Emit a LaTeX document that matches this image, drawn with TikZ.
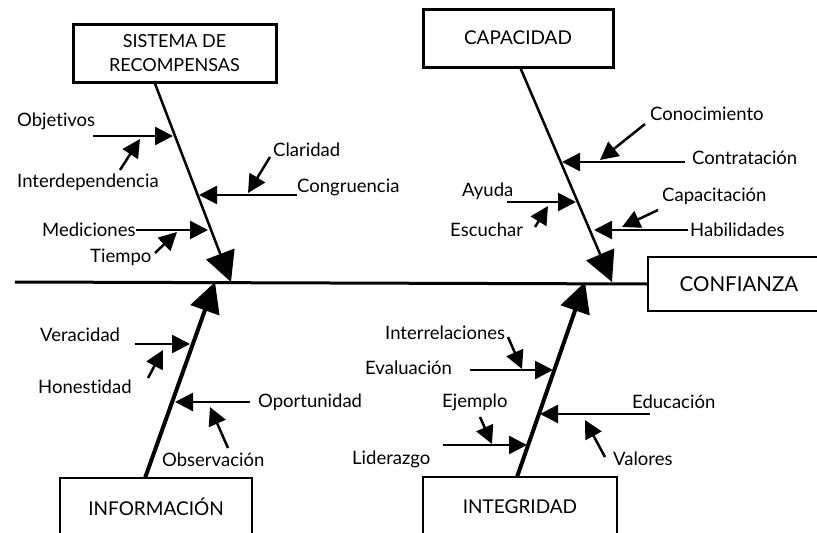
\documentclass[tikz,border=0pt]{standalone}
\usepackage{fontspec}
\setmainfont[Ligatures=NoCommon]{Lato}
\usetikzlibrary{arrows.meta}
\begin{document}
\begin{tikzpicture}[x=1pt,y=-1pt,
  lbl/.style={anchor=west, font=\fontsize{18.5}{20}\selectfont, inner sep=0pt},
  catbox/.style={draw, line width=2.5pt, font=\fontsize{19}{23}\selectfont, align=center, inner sep=0pt},
  sub/.style={line width=2.5pt, -{Triangle[length=18pt,width=18pt]}},
  spineU/.style={line width=2.5pt, -{Triangle[length=30pt,width=30pt]}},
  spineL/.style={line width=4pt, -{Triangle[length=30pt,width=30pt]}},
]
\useasboundingbox (0,0) rectangle (817,533);
\fill[white] (0,0) rectangle (817,533);

% category boxes
\node[catbox, line width=3pt, font=\fontsize{18}{24}\selectfont, minimum width=203pt, minimum height=58pt] (rs) at (174.5,53) {SISTEMA DE\\RECOMPENSAS};
\node[catbox, line width=3pt, minimum width=190pt, minimum height=58pt] (cap) at (518,38) {CAPACIDAD};
\node[catbox, line width=2pt, font=\fontsize{20.5}{23}\selectfont, minimum width=182pt, minimum height=54pt] (conf) at (739,284) {CONFIANZA};
\node[catbox, line width=2pt, minimum width=192pt, minimum height=58pt] (inf) at (156,507) {INFORMACIÓN};
\node[catbox, line width=2.5pt, minimum width=194pt, minimum height=60pt] (int) at (520,507) {INTEGRIDAD};

% main spine
\coordinate (mainL) at (15,282);
\draw[line width=3pt] (mainL) -- (conf.west);

% category spines
\coordinate (rsS) at (154,81);   \coordinate (rsT) at (231,282);
\coordinate (capS) at (520,67);  \coordinate (capT) at (612,282);
\coordinate (infS) at (145,478); \coordinate (infT) at (215,282);
\coordinate (intS) at (517,477); \coordinate (intT) at (585,282);
\draw[spineU] (rsS) -- (rsT);
\draw[spineU] (capS) -- (capT);
\draw[spineL] (infS) -- (infT);
\draw[spineL] (intS) -- (intT);

% --- SISTEMA DE RECOMPENSAS ---
\node[lbl] (obj) at (17,121) {Objetivos};
\node[lbl] (inter) at (17,182) {Interdependencia};
\node[lbl] (clar) at (273,150) {Claridad};
\node[lbl] (cong) at (297,187) {Congruencia};
\node[lbl] (med) at (42,230) {Mediciones};
\node[lbl] (tiem) at (90,257) {Tiempo};
\coordinate (objS) at (93,136);  \coordinate (objE) at (173,136);
\coordinate (interS) at (120,170); \coordinate (interE) at (140,139);
\coordinate (clarS) at (270,157); \coordinate (clarE) at (248,193);
\coordinate (congS) at (297,195); \coordinate (congE) at (199,195);
\coordinate (medE) at (208,230);
\coordinate (tiemS) at (155,253); \coordinate (tiemE) at (177,232);
\draw[sub] (objS) -- (objE);
\draw[sub] (interS) -- (interE);
\draw[sub] (clarS) -- (clarE);
\draw[sub] (congS) -- (congE);
\draw[sub] (med.east) -- (medE);
\draw[sub] (tiemS) -- (tiemE);

% --- CAPACIDAD ---
\node[lbl] (cono) at (650,114) {Conocimiento};
\node[lbl] (contr) at (692,158) {Contratación};
\node[lbl] (ayu) at (462,191) {Ayuda};
\node[lbl] (esc) at (450,230) {Escuchar};
\node[lbl] (capa) at (662,196) {Capacitación};
\node[lbl] (hab) at (690,230) {Habilidades};
\coordinate (conoS) at (645,124); \coordinate (conoE) at (600,160);
\coordinate (contrS) at (685,162); \coordinate (contrE) at (562,162);
\coordinate (ayuS) at (507,202); \coordinate (ayuE) at (576,202);
\coordinate (escS) at (535,227); \coordinate (escE) at (548,206);
\coordinate (capaS) at (658,210); \coordinate (capaE) at (622,227);
\coordinate (habS) at (688,230); \coordinate (habE) at (594,230);
\draw[sub] (conoS) -- (conoE);
\draw[sub] (contrS) -- (contrE);
\draw[sub] (ayuS) -- (ayuE);
\draw[sub] (escS) -- (escE);
\draw[sub] (capaS) -- (capaE);
\draw[sub] (habS) -- (habE);

% --- INFORMACIÓN ---
\node[lbl] (ver) at (40,335) {Veracidad};
\node[lbl] (hon) at (38,387) {Honestidad};
\node[lbl] (opo) at (258,402) {Oportunidad};
\node[lbl] (obs) at (162,460) {Observación};
\coordinate (verS) at (135,344); \coordinate (verE) at (190,344);
\coordinate (honS) at (148,378); \coordinate (honE) at (163,350);
\coordinate (opoS) at (250,402); \coordinate (opoE) at (175,402);
\coordinate (obsS) at (228,448); \coordinate (obsE) at (210,407);
\draw[sub] (verS) -- (verE);
\draw[sub] (honS) -- (honE);
\draw[sub] (opoS) -- (opoE);
\draw[sub] (obsS) -- (obsE);

% --- INTEGRIDAD ---
\node[lbl] (interr) at (385,333) {Interrelaciones};
\node[lbl] (eva) at (365,368) {Evaluación};
\node[lbl] (eje) at (442,402) {Ejemplo};
\node[lbl] (lid) at (352,459) {Liderazgo};
\node[lbl] (edu) at (632,402) {Educación};
\node[lbl] (val) at (613,459) {Valores};
\coordinate (interrS) at (508,337); \coordinate (interrE) at (522,369);
\coordinate (evaS) at (470,370); \coordinate (evaE) at (553,370);
\coordinate (ejeS) at (480,417); \coordinate (ejeE) at (492,444);
\coordinate (lidS) at (443,445); \coordinate (lidE) at (527,445);
\coordinate (eduS) at (650,414); \coordinate (eduE) at (540,414);
\coordinate (valS) at (605,457); \coordinate (valE) at (585,420);
\draw[sub] (interrS) -- (interrE);
\draw[sub] (evaS) -- (evaE);
\draw[sub] (ejeS) -- (ejeE);
\draw[sub] (lidS) -- (lidE);
\draw[sub] (eduS) -- (eduE);
\draw[sub] (valS) -- (valE);
\end{tikzpicture}
\end{document}
